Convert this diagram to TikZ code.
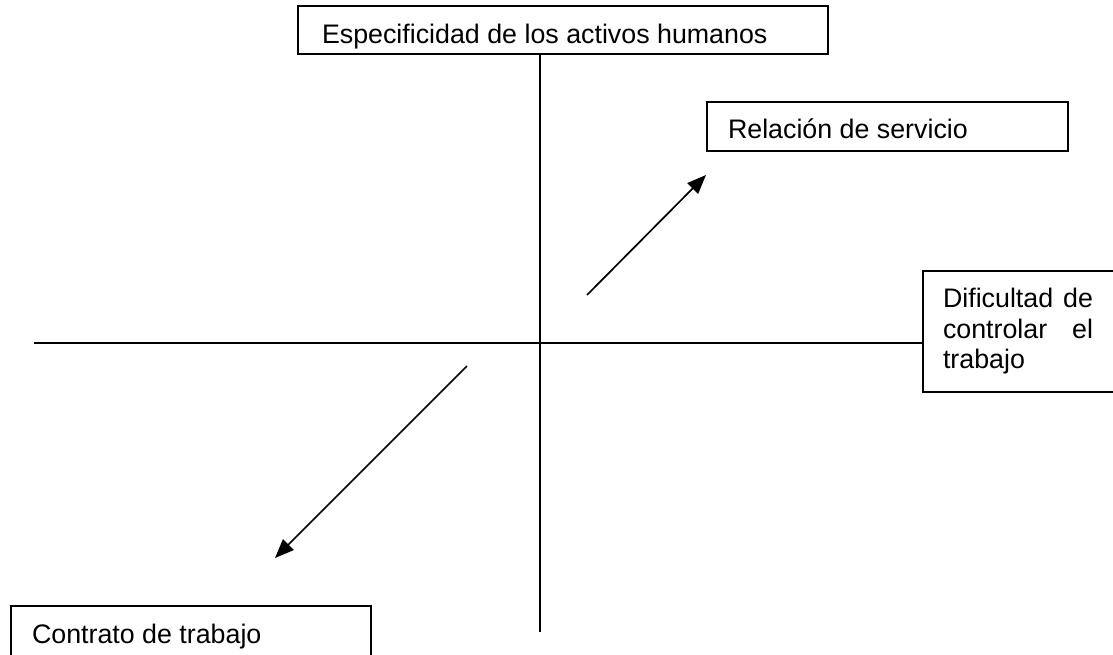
\documentclass[tikz,border=0pt]{standalone}
\usepackage{fontspec}
\setmainfont{Liberation Sans}
\usetikzlibrary{arrows.meta}
\begin{document}
\begin{tikzpicture}[x=1pt,y=-1pt,
  axis/.style={line width=1.8pt},
  lbl/.style={draw, line width=1.8pt, inner ysep=0pt, outer sep=0pt, anchor=north west, font=\fontsize{26.8}{30.5}\selectfont},
  arr/.style={line width=1.7pt, -{Triangle[length=19pt,width=15pt]}}]
\useasboundingbox (0,0) rectangle (1113,654);
\fill[white] (0,0) rectangle (1113,654);
\clip (0,0) rectangle (1113,654);
% boxes
\node[lbl, inner xsep=24pt, text height=37pt, text depth=11pt] (tb) at (298,6)
  {\makebox[482pt][l]{Especificidad de los activos humanos}};
\node[lbl, inner xsep=21pt, text height=36pt, text depth=13pt] (rs) at (707,102)
  {\makebox[319pt][l]{Relación de servicio}};
\node[lbl, inner xsep=21pt, text height=37pt, text depth=40pt] (ct) at (11,606)
  {\makebox[318pt][l]{Contrato de trabajo}};
\node[lbl, inner xsep=20pt, minimum height=121pt, align=left] (dc) at (923,271)
  {\makebox[150pt]{Dificultad\hfill de}\hspace*{20pt}\\\makebox[150pt]{controlar\hfill el}\hspace*{20pt}\\trabajo\hfill\hspace*{20pt}};
% axes
\coordinate (hl) at (34,343);
\coordinate (vb) at (540,632);
\draw[axis] (hl) -- (hl -| dc.west);
\draw[axis] (vb) -- (vb |- tb.south);
% arrows
\coordinate (a1s) at (587,295);
\coordinate (a1e) at (706,175);
\coordinate (a2s) at (467,366);
\coordinate (a2e) at (275,558);
\draw[arr] (a1s) -- (a1e);
\draw[arr] (a2s) -- (a2e);
\end{tikzpicture}
\end{document}
